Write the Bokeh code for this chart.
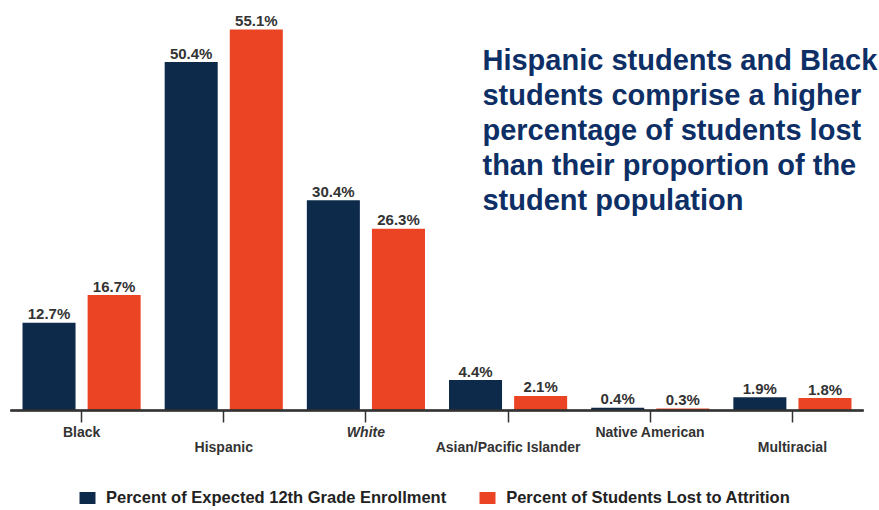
from bokeh.plotting import figure
from bokeh.models import (ColumnDataSource, Range1d, Legend, LegendItem, Label,
                          LinearAxis, FixedTicker)
from bokeh.core.properties import value
from bokeh.transform import dodge
from bokeh.embed import file_html
from bokeh.resources import INLINE

categories = ["Black", "Hispanic", "White", "Asian/Pacific Islander", "Native American", "Multiracial"]
enrollment = [12.7, 50.4, 30.4, 4.4, 0.4, 1.9]
lost = [16.7, 55.1, 26.3, 2.1, 0.3, 1.8]
series_names = ["Percent of Expected 12th Grade Enrollment", "Percent of Students Lost to Attrition"]
note = ("Hispanic students and Black\nstudents comprise a higher\npercentage of students lost\n"
        "than their proportion of the\nstudent population")

NAVY = "#0e2a4b"
ORANGE = "#ea4424"
TEXT = "#333333"
FONT = "Liberation Sans"

xpos = [i + 0.5 for i in range(len(categories))]
src = ColumnDataSource(dict(
    x=xpos,
    cat=categories,
    enroll=enrollment,
    lost=lost,
    enroll_lbl=[f"{v}%" for v in enrollment],
    lost_lbl=[f"{v}%" for v in lost],
))

p = figure(x_range=Range1d(-0.0703, len(categories) + 0.1125), y_range=Range1d(-14.463, 59.3),
           width=879, height=510, output_backend="svg", toolbar_location=None,
           x_axis_location=None, y_axis_location=None, min_border=0)
p.outline_line_color = None
p.xgrid.visible = False
p.ygrid.visible = False
p.background_fill_color = "white"

off, w = 0.229, 0.373
r1 = p.vbar(x=dodge("x", -off), top="enroll", width=w, source=src,
            fill_color=NAVY, line_color=None)
r2 = p.vbar(x=dodge("x", off), top="lost", width=w, source=src,
            fill_color=ORANGE, line_color=None)

for col, o in (("enroll", -off), ("lost", off)):
    p.text(x=dodge("x", o), y=col, text=col + "_lbl", source=src,
           text_align="center", text_baseline="alphabetic", y_offset=-9,
           text_font=value(FONT), text_font_size="15px", text_font_style="bold", text_color=TEXT)

# one category axis per label, all sharing the baseline, giving the staggered labels
for i, (t, cat) in enumerate(zip(xpos, categories)):
    ax = LinearAxis(ticker=FixedTicker(ticks=[t], minor_ticks=[]),
                    major_label_overrides={t: cat},
                    fixed_location=0, bounds=(0, len(categories)))
    ax.major_label_text_font = FONT
    ax.major_label_text_font_size = "14px"
    ax.major_label_text_font_style = "bold italic" if cat == "White" else "bold"
    ax.major_label_text_color = TEXT
    ax.major_label_standoff = 1 if i % 2 == 0 else 16
    ax.major_tick_in = 0
    ax.major_tick_out = 12
    ax.major_tick_line_color = TEXT
    ax.major_tick_line_width = 1.5
    ax.axis_line_color = TEXT
    ax.axis_line_width = 1.5
    ax.minor_tick_line_color = None
    p.add_layout(ax, "below")

p.add_layout(Label(x=3.32, y=53.0, text=note, text_baseline="top", text_align="left",
                   text_font=FONT, text_font_size="29px", text_font_style="bold",
                   text_color="#0d2f66", text_line_height=1.09))

legend = Legend(items=[LegendItem(label=series_names[0], renderers=[r1]),
                       LegendItem(label=series_names[1], renderers=[r2])],
                orientation="horizontal", location=(77, 3),
                glyph_width=20, glyph_height=15, label_height=15, label_standoff=9,
                spacing=31, padding=0, margin=0,
                label_text_font=FONT, label_text_font_size="16.5px", label_text_font_style="bold",
                label_text_color="#222222", border_line_color=None, background_fill_alpha=0)
p.add_layout(legend, "center")

open("out.html", "w").write(file_html(p, INLINE))
